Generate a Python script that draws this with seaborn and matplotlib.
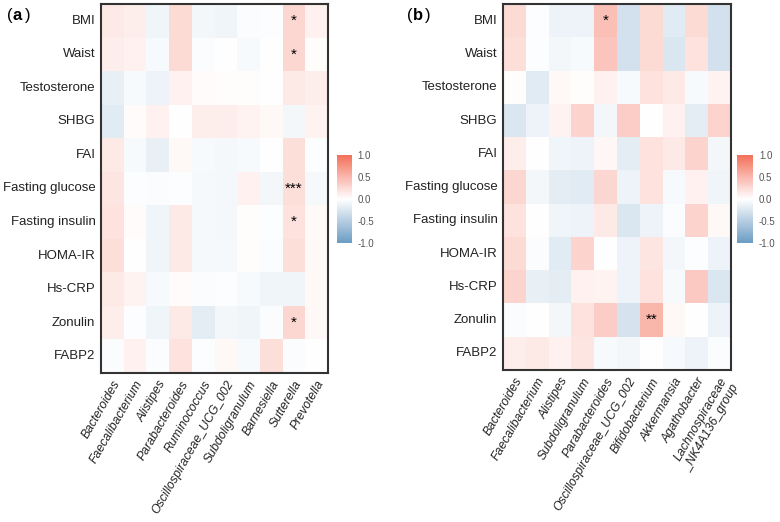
import numpy as np
import pandas as pd
import matplotlib
matplotlib.use("Agg")
import matplotlib.pyplot as plt
import seaborn as sns
from matplotlib.colors import LinearSegmentedColormap

# Row labels (shared by both panels)
rows = ["BMI", "Waist", "Testosterone", "SHBG", "FAI", "Fasting glucose",
        "Fasting insulin", "HOMA-IR", "Hs-CRP", "Zonulin", "FABP2"]

# Panel (a) genera and correlations
genera_a = ["Bacteroides", "Faecalibacterium", "Alistipes", "Parabacteroides",
            "Ruminococcus", "Oscillospiraceae_UCG_002", "Subdoligranulum",
            "Barnesiella", "Sutterella", "Prevotella"]
corr_a = [
    [0.15, 0.12, -0.10, 0.25, -0.08, -0.10, -0.03, -0.02, 0.28, 0.10],
    [0.12, 0.10, -0.05, 0.25, -0.03, 0.00, -0.05, 0.00, 0.28, 0.02],
    [-0.15, -0.05, -0.12, 0.10, 0.03, 0.02, 0.02, 0.00, 0.15, 0.12],
    [-0.20, 0.03, 0.10, 0.00, 0.12, 0.12, 0.08, 0.05, -0.08, 0.08],
    [0.15, -0.05, -0.15, 0.05, -0.05, -0.07, -0.05, 0.00, 0.22, -0.02],
    [0.18, -0.02, -0.03, -0.02, -0.06, -0.07, 0.10, -0.08, 0.22, -0.06],
    [0.20, 0.03, -0.10, 0.15, -0.06, -0.07, 0.02, -0.02, 0.20, 0.04],
    [0.22, 0.00, -0.10, 0.15, -0.06, -0.06, 0.02, -0.03, 0.22, 0.05],
    [0.15, 0.08, -0.05, 0.03, -0.03, -0.02, -0.05, -0.10, -0.10, 0.05],
    [0.12, -0.02, -0.10, 0.15, -0.18, -0.08, -0.10, -0.03, 0.28, 0.05],
    [-0.03, 0.10, -0.03, 0.20, -0.02, 0.05, -0.05, 0.22, -0.03, 0.00],
]
sig_a = [
    ["", "", "", "", "", "", "", "", "*", ""],
    ["", "", "", "", "", "", "", "", "*", ""],
    [""] * 10,
    [""] * 10,
    [""] * 10,
    ["", "", "", "", "", "", "", "", "***", ""],
    ["", "", "", "", "", "", "", "", "*", ""],
    [""] * 10,
    [""] * 10,
    ["", "", "", "", "", "", "", "", "*", ""],
    [""] * 10,
]

# Panel (b) genera and correlations
genera_b = ["Bacteroides", "Faecalibacterium", "Alistipes", "Subdoligranulum",
            "Parabacteroides", "Oscillospiraceae_UCG_002", "Bifidobacterium",
            "Akkermansia", "Agathobacter", "Lachnospiraceae\n_NK4A136_group"]
corr_b = [
    [0.25, -0.02, -0.12, -0.12, 0.45, -0.30, 0.25, -0.20, 0.25, -0.30],
    [0.22, -0.02, -0.08, -0.05, 0.40, -0.30, 0.25, -0.25, 0.20, -0.30],
    [0.02, -0.20, 0.05, 0.02, 0.10, -0.05, 0.20, 0.15, -0.05, 0.08],
    [-0.25, -0.12, 0.08, 0.30, -0.08, 0.35, 0.00, 0.10, -0.18, 0.30],
    [0.12, 0.00, -0.10, -0.12, 0.06, -0.18, 0.20, 0.15, 0.30, -0.08],
    [0.28, -0.08, -0.18, -0.20, 0.28, -0.12, 0.20, -0.05, 0.10, -0.10],
    [0.20, 0.00, -0.10, -0.12, 0.15, -0.25, -0.12, -0.03, 0.30, 0.05],
    [0.25, -0.03, -0.20, 0.30, 0.00, -0.12, 0.18, -0.08, -0.02, -0.12],
    [0.30, -0.15, -0.18, 0.10, 0.08, -0.12, 0.20, -0.05, 0.38, -0.25],
    [-0.03, 0.00, -0.08, 0.20, 0.35, -0.28, 0.50, 0.05, 0.00, -0.12],
    [0.12, 0.15, 0.10, 0.18, -0.05, -0.08, 0.00, -0.05, -0.12, -0.03],
]
sig_b = [
    ["", "", "", "", "*", "", "", "", "", ""],
    [""] * 10,
    [""] * 10,
    [""] * 10,
    [""] * 10,
    [""] * 10,
    [""] * 10,
    [""] * 10,
    [""] * 10,
    ["", "", "", "", "", "", "**", "", "", ""],
    [""] * 10,
]

cbar_ticks = [-1.0, -0.5, 0.0, 0.5, 1.0]

plt.rcParams['font.family'] = ['Liberation Sans', 'DejaVu Sans']

cmap = LinearSegmentedColormap.from_list("bwr_soft", ["#6a9bc3", "#ffffff", "#f4705b"])

fig = plt.figure(figsize=(7.8, 5.22), dpi=100)

# tag, labels, values, stars, heatmap rect, colorbar rect, tag x position
panels = [
    ("a", genera_a, corr_a, sig_a, [0.1295, 0.2854, 0.291, 0.707], [0.432, 0.534, 0.019, 0.169], 0.009),
    ("b", genera_b, corr_b, sig_b, [0.6449, 0.2912, 0.2923, 0.701], [0.945, 0.534, 0.021, 0.169], 0.522),
]

for tag, genera, corr, sig, rect, crect, tx in panels:
    ax = fig.add_axes(rect)
    cax = fig.add_axes(crect)
    df = pd.DataFrame(corr, index=rows, columns=genera)
    sns.heatmap(df, ax=ax, cbar_ax=cax, cmap=cmap, vmin=-1, vmax=1,
                annot=np.array(sig), fmt="", annot_kws={"color": "black", "fontsize": 11})
    for s in ax.spines.values():
        s.set_visible(True)
        s.set_linewidth(1.5)
        s.set_color("#333333")
    ax.tick_params(length=0, pad=4)
    ax.set_yticklabels(rows, rotation=0, fontsize=9.5, color="#222222")
    ax.set_xticklabels(genera, rotation=60, ha="right", rotation_mode="anchor",
                       fontsize=8.8, fontstyle="italic", color="#222222")
    ax.set_xlabel("")
    ax.set_ylabel("")
    cax.set_yticks(cbar_ticks)
    cax.set_yticklabels([f"{t:.1f}" for t in cbar_ticks], fontsize=7, color="#555555")
    cax.tick_params(length=0, pad=4)
    for s in cax.spines.values():
        s.set_visible(False)
    # panel tag "(a)" with bold letter
    fig.text(tx, 0.971, "(", fontsize=12, va="center")
    fig.text(tx + 0.007, 0.971, tag, fontsize=12, fontweight="bold", va="center")
    fig.text(tx + 0.0225, 0.971, ")", fontsize=12, va="center")

fig.savefig("out.png", dpi=100)
